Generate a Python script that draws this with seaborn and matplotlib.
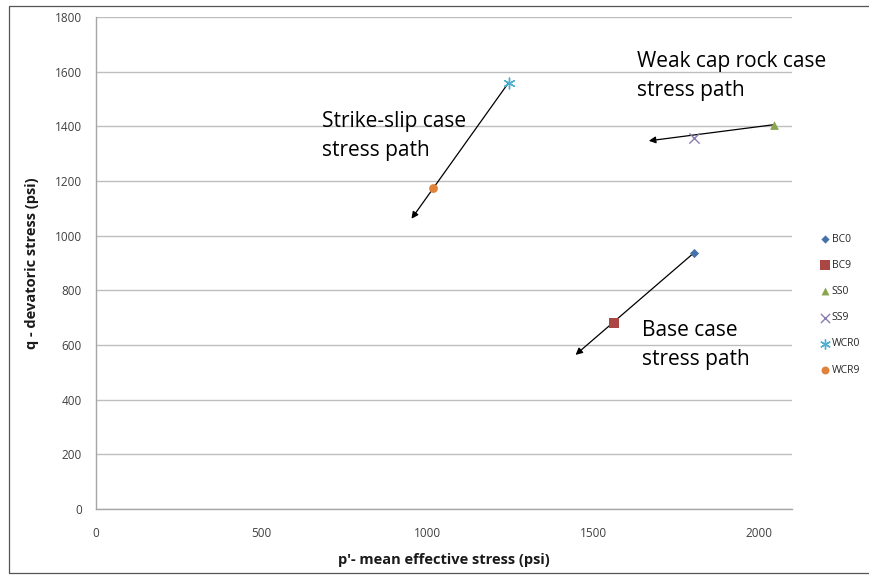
import numpy as np
import pandas as pd
import seaborn as sns
import matplotlib.pyplot as plt
from matplotlib.patches import Rectangle

# stress states (p' mean effective stress, q deviatoric stress), psi
series = ['BC0', 'BC9', 'SS0', 'SS9', 'WCR0', 'WCR9']
p_vals = [1804, 1562, 2045, 1804, 1245, 1018]
q_vals = [937, 681, 1406, 1358, 1560, 1175]

# stress path arrows: start point -> arrow tip
path_labels = ['Strike-slip case\nstress path', 'Weak cap rock case\nstress path', 'Base case\nstress path']
path_start_p = [1245, 2045, 1804]
path_start_q = [1560, 1406, 937]
path_end_p = [952, 1668, 1447]
path_end_q = [1062, 1347, 564]

x_ticks = [0, 500, 1000, 1500, 2000]
y_ticks = [0, 200, 400, 600, 800, 1000, 1200, 1400, 1600, 1800]

df = pd.DataFrame({'series': series, 'p': p_vals, 'q': q_vals})

colors = {'BC0': '#4572A7', 'BC9': '#AA4643', 'SS0': '#89A54E',
          'SS9': '#8A7CB0', 'WCR0': '#4FAFD0', 'WCR9': '#E0823A'}
markers = {'BC0': 'D', 'BC9': 's', 'SS0': '^', 'SS9': 'x', 'WCR0': (6, 2, 0), 'WCR9': 'o'}
sizes = {'BC0': 22, 'BC9': 60, 'SS0': 40, 'SS9': 55, 'WCR0': 60, 'WCR9': 40}

sns.set_theme(style='white')
plt.rcParams['font.family'] = ['Open Sans', 'DejaVu Sans']

fig = plt.figure(figsize=(8.7, 5.75), dpi=100)
ax = fig.add_axes([96 / 870, 1 - 509 / 575, 696 / 870, 492 / 575])

for s in series:
    sub = df[df['series'] == s]
    sns.scatterplot(data=sub, x='p', y='q', ax=ax, color=colors[s], marker=markers[s],
                    s=sizes[s], linewidth=1.0 if s in ('SS9', 'WCR0') else 0,
                    label=s, zorder=4)

for lab, x0, y0, x1, y1 in zip(path_labels, path_start_p, path_start_q, path_end_p, path_end_q):
    ax.annotate('', xy=(x1, y1), xytext=(x0, y0),
                arrowprops=dict(arrowstyle='-|>', color='black', lw=0.9,
                                mutation_scale=10, shrinkA=0, shrinkB=0), zorder=3)

# text labels for each path (baseline of the second line)
text_pos = [(0.325, 0.717), (0.777, 0.839), (0.784, 0.293)]
for lab, (tx, ty) in zip(path_labels, text_pos):
    ax.text(tx, ty, lab, transform=ax.transAxes, fontsize=15, color='black',
            va='baseline', ha='left', linespacing=1.5)

ax.set_xlim(0, 2100)
ax.set_ylim(0, 1800)
ax.set_xticks(x_ticks)
ax.set_yticks(y_ticks)
ax.yaxis.grid(True, color='#BEBEBE', linewidth=1.0)
ax.xaxis.grid(False)
ax.set_axisbelow(True)

for side in ['top', 'right']:
    ax.spines[side].set_visible(False)
for side in ['left', 'bottom']:
    ax.spines[side].set_color('#A6A6A6')
    ax.spines[side].set_linewidth(1.0)

ax.tick_params(axis='both', which='major', direction='out', length=4, width=0.8,
               color='#A6A6A6', labelsize=8.5, labelcolor='#404040', pad=6)
ax.tick_params(axis='x', pad=9)

ax.set_xlabel("p'- mean effective stress (psi)", fontsize=10.5, fontweight='bold', color='#1a1a1a')
ax.set_ylabel('q - devatoric stress (psi)', fontsize=10.5, fontweight='bold', color='#1a1a1a')
ax.xaxis.set_label_coords(0.5, -0.09)
ax.yaxis.set_label_coords(-0.082, 0.5)

ax.legend(loc='center left', bbox_to_anchor=(0.943, 0.470), bbox_transform=fig.transFigure,
          frameon=False, fontsize=7.5, handlelength=0.8, handletextpad=0.3,
          labelspacing=1.45, borderpad=0, borderaxespad=0, markerscale=0.9)

# outer chart border
fig.patches.append(Rectangle((9 / 870, 1 - 573 / 575), 1.0, 567 / 575, transform=fig.transFigure,
                             fill=False, edgecolor='#555555', linewidth=0.9))

fig.savefig('out.png', dpi=100)
